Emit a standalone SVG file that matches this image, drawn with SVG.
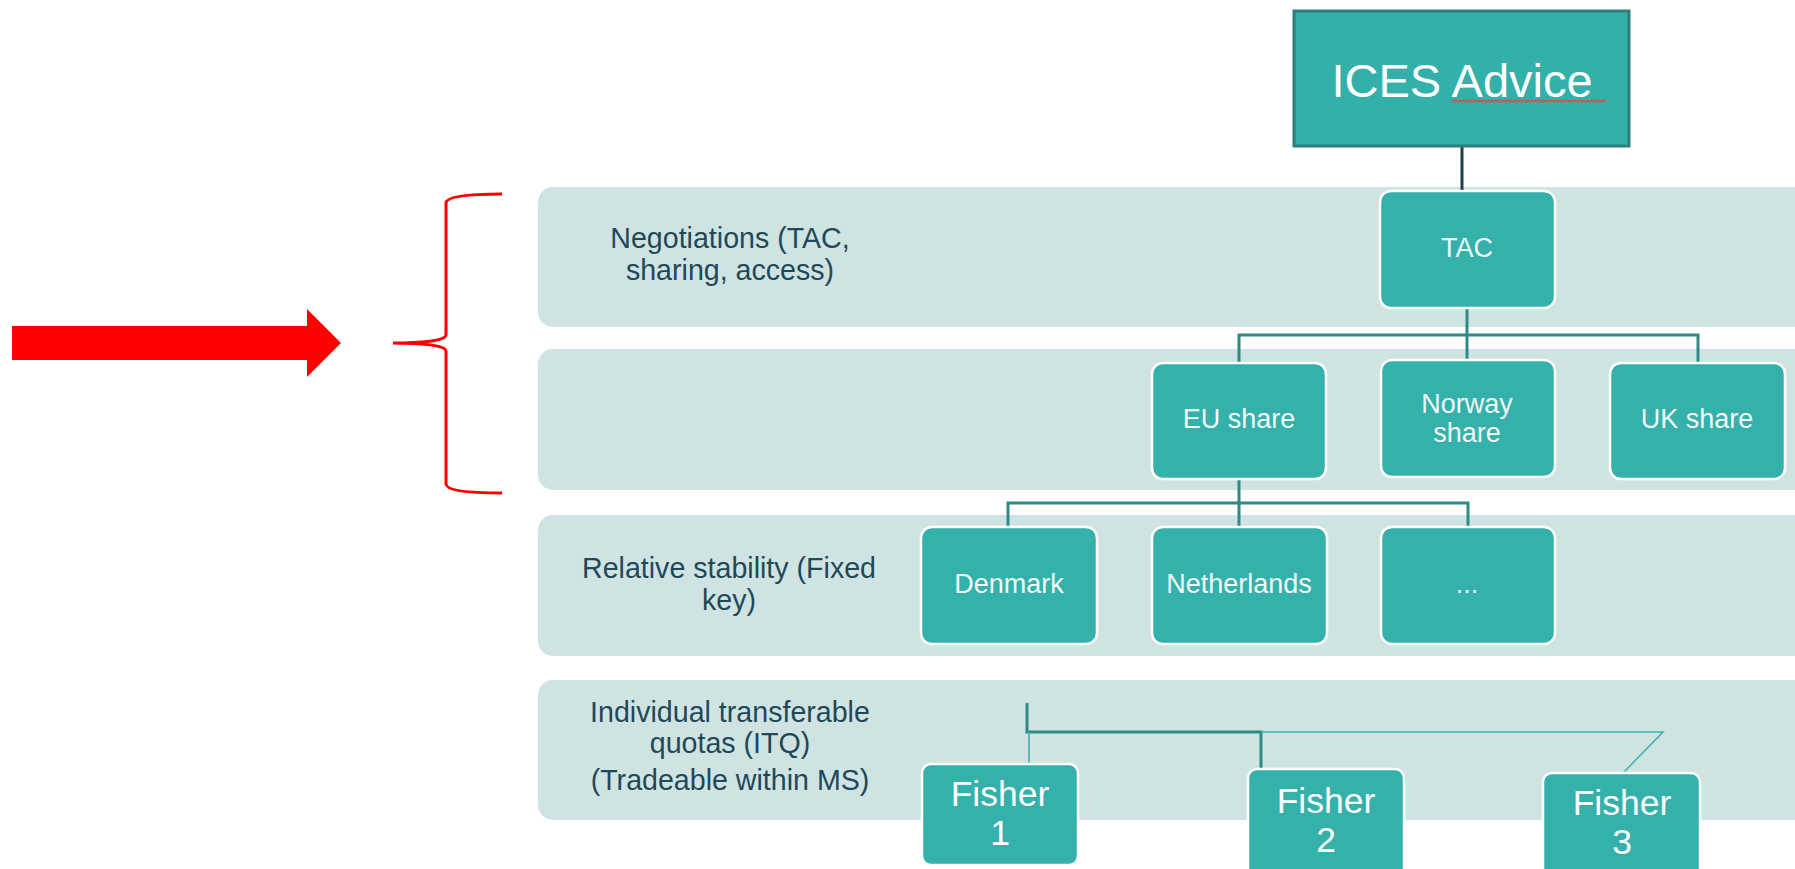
<svg xmlns="http://www.w3.org/2000/svg" width="1795" height="869" viewBox="0 0 1795 869">
  <style>
    .band { fill: #cfe4e2; }
    .box { fill: #34b1aa; stroke: #ffffff; stroke-width: 2.5; }
    .box-text { font-family: "Liberation Sans", Arial, sans-serif; font-size: 27px; fill: #f2faf9; text-anchor: middle; }
    .fisher-text { font-family: "Liberation Sans", Arial, sans-serif; font-size: 35.5px; fill: #ffffff; text-anchor: middle; }
    .label { font-family: "Liberation Sans", Arial, sans-serif; font-size: 28.6px; fill: #1f4858; text-anchor: middle; }
    .link { fill: none; stroke: #2e8a85; stroke-width: 3; }
    .link-thin { fill: none; stroke: #3db3ab; stroke-width: 1.6; }
  </style>

  <rect width="1795" height="869" fill="#ffffff"/>

  <!-- level bands -->
  <g id="bands">
    <rect class="band" x="538" y="187" width="1290" height="140" rx="15"/>
    <rect class="band" x="538" y="349" width="1290" height="141" rx="15"/>
    <rect class="band" x="538" y="515" width="1290" height="141" rx="15"/>
    <rect class="band" x="538" y="680" width="1290" height="140" rx="15"/>
  </g>

  <!-- level labels -->
  <g id="label-negotiations">
    <text class="label" x="730" y="248">Negotiations (TAC,</text>
    <text class="label" x="730" y="280">sharing, access)</text>
  </g>
  <g id="label-relative-stability">
    <text class="label" x="729" y="578">Relative stability (Fixed</text>
    <text class="label" x="729" y="610">key)</text>
  </g>
  <g id="label-itq">
    <text class="label" x="730" y="722">Individual transferable</text>
    <text class="label" x="730" y="753">quotas (ITQ)</text>
    <text class="label" x="730" y="790">(Tradeable within MS)</text>
  </g>

  <!-- pointer arrow and brace -->
  <g id="pointer">
    <polygon points="12,326 307,326 307,309 341,343 307,377 307,360 12,360" fill="#ff0000"/>
    <path d="M502,194 C472,194 446,196 446,203 L446,335 C446,341 420,343 393,343 C420,343 446,345 446,351 L446,484 C446,491 472,493 502,493" fill="none" stroke="#ff0000" stroke-width="3"/>
  </g>

  <!-- connectors -->
  <g id="connectors">
    <line x1="1462" y1="146" x2="1462" y2="191" stroke="#1d3c4c" stroke-width="3"/>
    <path class="link" d="M1467,308 V360 M1239,363 V335 H1698 V363"/>
    <path class="link" d="M1239,479 V527 M1008,527 V503 H1468 V527"/>
    <path class="link" d="M1027,703 V732 H1261 V768"/>
    <path class="link-thin" d="M1029,732 V764 M1261,732 H1663 L1623,773"/>
  </g>

  <!-- nodes -->
  <g id="node-ices-advice">
    <rect x="1294" y="11" width="335" height="135" fill="#33b0a9" stroke="#2b7e79" stroke-width="3"/>
    <text x="1462" y="97" font-family="Liberation Sans, Arial, sans-serif" font-size="47" fill="#ffffff" text-anchor="middle">ICES Advice</text>
    <!-- spelling squiggle under "Advice" -->
    <path d="M1452,100 l2,2 l2,-2 l2,2 l2,-2 l2,2 l2,-2 l2,2 l2,-2 l2,2 l2,-2 l2,2 l2,-2 l2,2 l2,-2 l2,2 l2,-2 l2,2 l2,-2 l2,2 l2,-2 l2,2 l2,-2 l2,2 l2,-2 l2,2 l2,-2 l2,2 l2,-2 l2,2 l2,-2 l2,2 l2,-2 l2,2 l2,-2 l2,2 l2,-2 l2,2 l2,-2 l2,2 l2,-2 l2,2 l2,-2 l2,2 l2,-2 l2,2 l2,-2 l2,2 l2,-2 l2,2 l2,-2 l2,2 l2,-2 l2,2 l2,-2 l2,2 l2,-2 l2,2 l2,-2 l2,2 l2,-2 l2,2 l2,-2 l2,2 l2,-2 l2,2 l2,-2 l2,2 l2,-2 l2,2 l2,-2 l2,2 l2,-2 l2,2 l2,-2 l2,2 l2,-2 l2,2" fill="none" stroke="#e04848" stroke-width="1.4"/>
  </g>

  <g id="node-tac">
    <rect class="box" x="1380" y="191" width="175" height="117" rx="11"/>
    <text class="box-text" x="1467" y="257">TAC</text>
  </g>

  <g id="node-eu-share">
    <rect class="box" x="1152" y="363" width="174" height="116" rx="11"/>
    <text class="box-text" x="1239" y="428">EU share</text>
  </g>
  <g id="node-norway-share">
    <rect class="box" x="1381" y="360" width="174" height="117" rx="11"/>
    <text class="box-text" x="1467" y="413">Norway</text>
    <text class="box-text" x="1467" y="442">share</text>
  </g>
  <g id="node-uk-share">
    <rect class="box" x="1610" y="363" width="175" height="116" rx="11"/>
    <text class="box-text" x="1697" y="428">UK share</text>
  </g>

  <g id="node-denmark">
    <rect class="box" x="921" y="527" width="176" height="117" rx="11"/>
    <text class="box-text" x="1009" y="593">Denmark</text>
  </g>
  <g id="node-netherlands">
    <rect class="box" x="1152" y="527" width="175" height="117" rx="11"/>
    <text class="box-text" x="1239" y="593">Netherlands</text>
  </g>
  <g id="node-more">
    <rect class="box" x="1381" y="527" width="174" height="117" rx="11"/>
    <text class="box-text" x="1467" y="593">...</text>
  </g>

  <g id="node-fisher-1">
    <rect class="box" x="922" y="764" width="156" height="101" rx="9"/>
    <text class="fisher-text" x="1000" y="806">Fisher</text>
    <text class="fisher-text" x="1000" y="845">1</text>
  </g>
  <g id="node-fisher-2">
    <rect class="box" x="1248" y="769" width="156" height="115" rx="9"/>
    <text class="fisher-text" x="1326" y="813">Fisher</text>
    <text class="fisher-text" x="1326" y="852">2</text>
  </g>
  <g id="node-fisher-3">
    <rect class="box" x="1543" y="773" width="157" height="115" rx="9"/>
    <text class="fisher-text" x="1622" y="815">Fisher</text>
    <text class="fisher-text" x="1622" y="854">3</text>
  </g>
</svg>
